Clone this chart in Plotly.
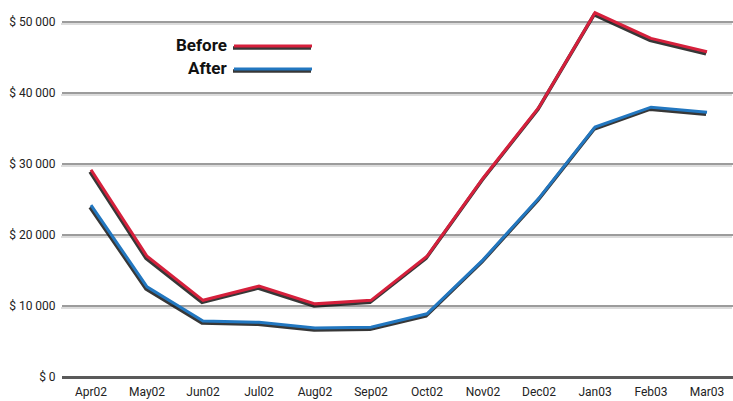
import plotly.graph_objects as go

months = ["Apr02", "May02", "Jun02", "Jul02", "Aug02", "Sep02", "Oct02",
          "Nov02", "Dec02", "Jan03", "Feb03", "Mar03"]
before = [29200, 17000, 10800, 12800, 10300, 10800, 17000, 28000, 38000, 51300, 47700, 45800]
after = [24200, 12700, 7900, 7700, 6900, 7000, 8900, 16500, 25200, 35200, 38000, 37300]
ytick_vals = [0, 10000, 20000, 30000, 40000, 50000]
ytick_text = ["$ 0", "$ 10 000", "$ 20 000", "$ 30 000", "$ 40 000", "$ 50 000"]

W, H = 733, 401
ML, MR, MT, MB = 61, 0, 0, 22
PW, PH = W - ML - MR, H - MT - MB
dx, dy = 1.0 / PW, 2.0 / PH
xs = list(range(len(months)))
XR = [-0.518, 11.464]
YR = [0, 53100]
RED = "#d6203c"
BLUE = "#2277c0"
SHADOW = "rgba(20,20,20,0.85)"
FONT = "Roboto, Liberation Sans, sans-serif"

fig = go.Figure()
# invisible anchor trace so the main (tick/grid) subplot is drawn
fig.add_trace(go.Scatter(x=xs, y=before, mode="lines", xaxis="x", yaxis="y",
                         line=dict(color="rgba(0,0,0,0)", width=0), hoverinfo="skip",
                         showlegend=False))
# shadows (offset subplot)
for ser in (before, after):
    fig.add_trace(go.Scatter(x=xs, y=ser, mode="lines", xaxis="x2", yaxis="y2",
                             line=dict(color=SHADOW, width=3.5), hoverinfo="skip",
                             showlegend=False))
# main lines
fig.add_trace(go.Scatter(x=xs, y=before, mode="lines", xaxis="x3", yaxis="y3",
                         line=dict(color=RED, width=3), name="Before", showlegend=False))
fig.add_trace(go.Scatter(x=xs, y=after, mode="lines", xaxis="x3", yaxis="y3",
                         line=dict(color=BLUE, width=3), name="After", showlegend=False))

hidden = dict(visible=True, showgrid=False, showticklabels=False, zeroline=False,
              showline=False, ticks="", automargin=False)
fig.update_layout(
    width=W, height=H,
    margin=dict(l=ML, r=MR, t=MT, b=MB),
    paper_bgcolor="white", plot_bgcolor="rgba(0,0,0,0)",
    font=dict(family=FONT, size=12, color="#222222"),
    xaxis=dict(domain=[dx, 1], range=XR, tickvals=xs, ticktext=months,
               showgrid=False, zeroline=False, ticks="outside", ticklen=4,
               automargin=False,
               tickcolor="rgba(0,0,0,0)", tickfont=dict(size=12, family=FONT)),
    yaxis=dict(domain=[dy, 1], range=YR, tickvals=ytick_vals, ticktext=ytick_text,
               showgrid=True, gridcolor="#9c9c9c", gridwidth=2,
               zeroline=True, zerolinecolor="#5a5a5a", zerolinewidth=3,
               automargin=False,
               tickfont=dict(size=12, family=FONT), ticks="outside", ticklen=3,
               tickcolor="rgba(0,0,0,0)"),
    xaxis2=dict(domain=[0, 1 - dx], range=XR, anchor="y2", **hidden),
    yaxis2=dict(domain=[0, 1 - dy], range=YR, anchor="x2",
                visible=True, showgrid=True, gridcolor="#dcdcdc", gridwidth=2,
                showticklabels=False, zeroline=False, showline=False, ticks="",
                automargin=False, tickvals=ytick_vals),
    xaxis3=dict(domain=[dx, 1], range=XR, anchor="y3", **hidden),
    yaxis3=dict(domain=[dy, 1], range=YR, anchor="x3", **hidden),
)

def px_x(p):
    return (p - ML) / PW

def px_y(p):
    return (H - MB - p) / PH

shapes = []
for yy, col in ((46, RED), (69, BLUE)):
    shapes.append(dict(type="line", xref="paper", yref="paper",
                       x0=px_x(233), x1=px_x(311), y0=px_y(yy + 2), y1=px_y(yy + 2),
                       line=dict(color=SHADOW, width=3.5)))
    shapes.append(dict(type="line", xref="paper", yref="paper",
                       x0=px_x(234), x1=px_x(312), y0=px_y(yy), y1=px_y(yy),
                       line=dict(color=col, width=3)))
fig.update_layout(shapes=shapes)

for txt, yy in (("Before", 45), ("After", 68)):
    fig.add_annotation(text="<b>" + txt + "</b>", xref="paper", yref="paper",
                       x=px_x(229), y=px_y(yy), xanchor="right", yanchor="middle",
                       showarrow=False, font=dict(family=FONT, size=17, color="#111111"))

fig.write_html("out.html")
